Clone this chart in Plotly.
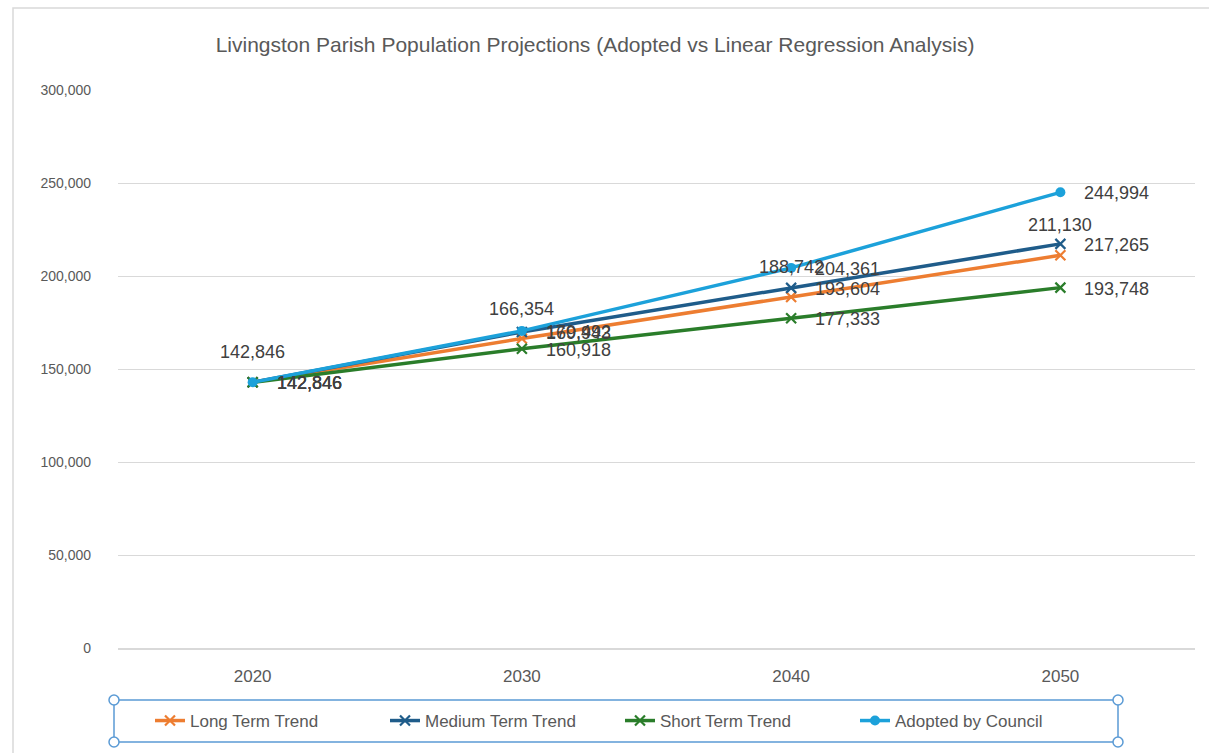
import plotly.graph_objects as go

years = ["2020", "2030", "2040", "2050"]
long_term = [142846, 166354, 188742, 211130]
medium_term = [142846, 169943, 193604, 217265]
short_term = [142846, 160918, 177333, 193748]
adopted = [142846, 170492, 204361, 244994]

y_ticks = [0, 50000, 100000, 150000, 200000, 250000, 300000]

W, H = 1209, 753
L, R, T, B = 118, 14, 90, 105
plot_w = W - L - R
plot_h = H - T - B

FONT = "Liberation Sans, Arial, sans-serif"


def px_x(px):
    return (px - L) / plot_w


def px_y(py):
    return (H - B - py) / plot_h


fig = go.Figure()

series = [
    ("Long Term Trend", long_term, "#ED7D31", "x-thin", "above"),
    ("Medium Term Trend", medium_term, "#1F5C8A", "x-thin", "right"),
    ("Short Term Trend", short_term, "#2A7D2A", "x-thin", "right"),
    ("Adopted by Council", adopted, "#1CA1DA", "circle", "right"),
]

annotations = []
for name, vals, color, sym, pos in series:
    if sym == "circle":
        marker = dict(color=color, size=10, symbol="circle")
    else:
        marker = dict(color=color, size=10, symbol=sym,
                      line=dict(color=color, width=2.2))
    fig.add_trace(go.Scatter(
        x=years, y=vals, name=name, mode="lines+markers",
        line=dict(color=color, width=3.5),
        marker=marker, cliponaxis=False,
    ))
    # value labels: Long Term above the point, the rest to the right
    # (category index used for x so "2020" is not read as a number)
    for i, v in enumerate(vals):
        a = dict(x=i, y=v, xref="x", yref="y", text=f"{v:,}",
                 showarrow=False,
                 font=dict(family=FONT, size=18, color="#404040"))
        if pos == "above":
            a.update(xanchor="center", yanchor="middle", yshift=30)
        else:
            a.update(xanchor="left", yanchor="middle", xshift=22, yshift=-1)
        annotations.append(a)

# chart frame and legend box
shapes = [
    dict(type="rect", xref="paper", yref="paper",
         x0=px_x(13), x1=px_x(1215), y0=px_y(760), y1=px_y(8),
         line=dict(color="#D9D9D9", width=1.5), fillcolor="rgba(0,0,0,0)"),
    dict(type="rect", xref="paper", yref="paper",
         x0=px_x(114), x1=px_x(1118), y0=px_y(742), y1=px_y(700),
         line=dict(color="#5B9BD5", width=1.5), fillcolor="rgba(0,0,0,0)"),
]
for cx in (114, 1118):
    for cy in (700, 742):
        r = 5
        shapes.append(dict(type="circle", xref="paper", yref="paper",
                           x0=px_x(cx - r), x1=px_x(cx + r),
                           y0=px_y(cy + r), y1=px_y(cy - r),
                           line=dict(color="#5B9BD5", width=1.5),
                           fillcolor="white"))

fig.update_layout(
    width=W, height=H,
    margin=dict(l=L, r=R, t=T, b=B),
    paper_bgcolor="white", plot_bgcolor="white",
    title=dict(text="Livingston Parish Population Projections (Adopted vs Linear Regression Analysis)",
               x=595 / W, xanchor="center",
               y=1 - 45 / H, yanchor="middle",
               font=dict(family=FONT, size=21, color="#595959")),
    font=dict(family=FONT, color="#595959"),
    showlegend=True,
    legend=dict(orientation="h", x=px_x(150), xanchor="left",
                y=px_y(721), yanchor="middle",
                font=dict(family=FONT, size=17, color="#595959"),
                entrywidth=190, entrywidthmode="pixels",
                bgcolor="rgba(0,0,0,0)", itemwidth=30),
    annotations=annotations,
    shapes=shapes,
    xaxis=dict(type="category", range=[-0.5, 3.5], showgrid=False,
               showline=True, linecolor="#D9D9D9", linewidth=1.5,
               ticks="", tickfont=dict(family=FONT, size=17, color="#595959"),
               ticklabelstandoff=12, fixedrange=True),
    yaxis=dict(range=[0, 300000], tickvals=y_ticks,
               ticktext=[f"{v:,}" for v in y_ticks],
               showgrid=True, gridcolor="#D9D9D9", gridwidth=1,
               zeroline=False, showline=False, ticks="",
               tickfont=dict(family=FONT, size=14, color="#595959"),
               ticklabelstandoff=26),
)

fig.write_html("out.html")
